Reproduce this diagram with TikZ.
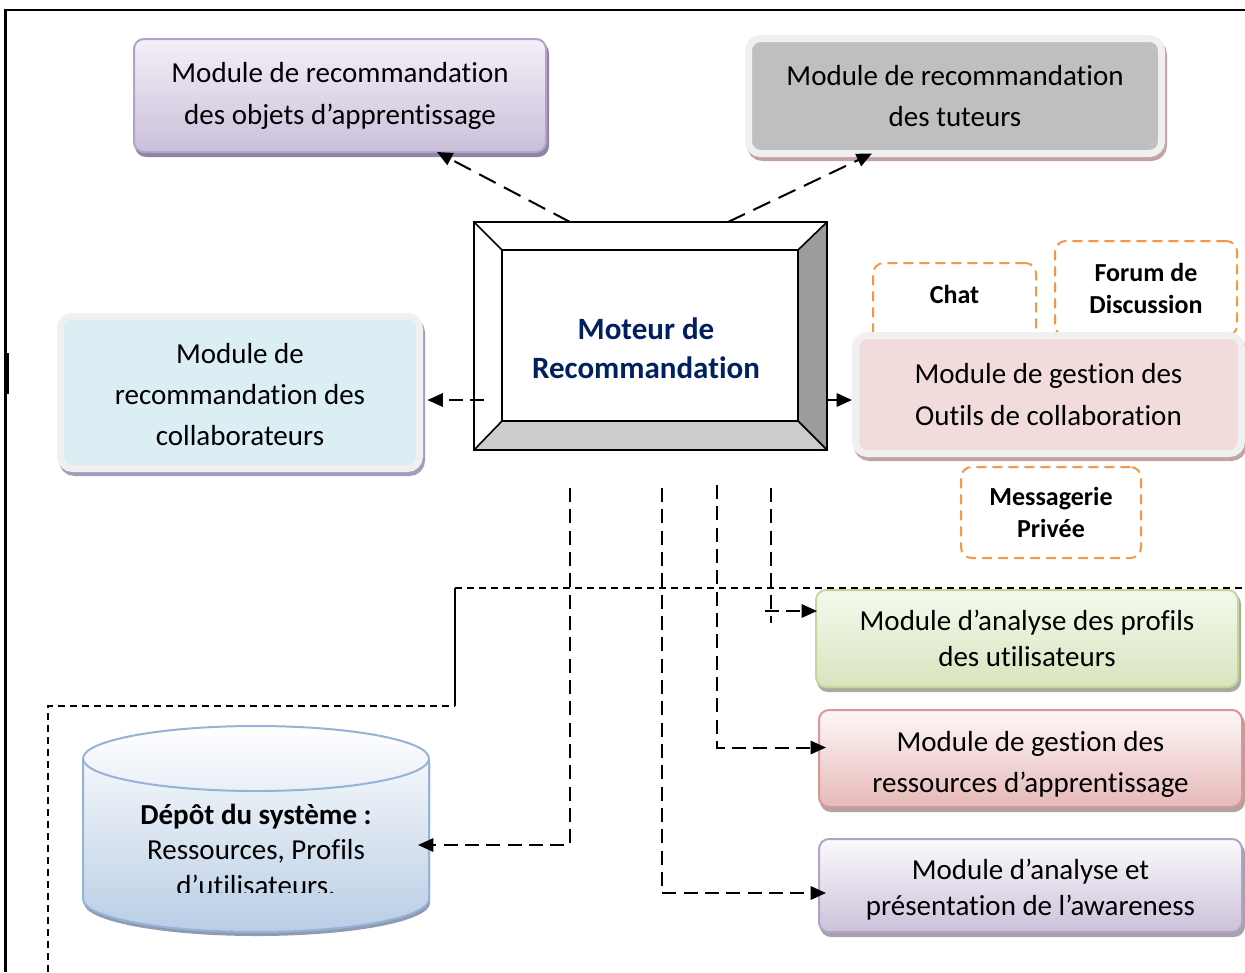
\documentclass[tikz,border=0pt]{standalone}
\usepackage{fontspec}
\setmainfont{Carlito}[Ligatures={NoCommon,NoContextual}]
\usetikzlibrary{calc,arrows.meta}

\definecolor{navy}{HTML}{002060}
\definecolor{orangeline}{HTML}{F79646}
\definecolor{lavtop}{HTML}{F3F0F7}
\definecolor{lavbot}{HTML}{CBBFDA}
\definecolor{lavline}{HTML}{B3A2C7}
\definecolor{lavshadow}{HTML}{8F84A3}
\definecolor{greytut}{HTML}{BFBFBF}
\definecolor{framecol}{HTML}{F0F0F0}
\definecolor{roseshadow}{HTML}{C4A3A3}
\definecolor{iceblue}{HTML}{DAEEF3}
\definecolor{blueshadow}{HTML}{A29DBB}
\definecolor{rosefill}{HTML}{F2DCDB}
\definecolor{greentop}{HTML}{F5F9EE}
\definecolor{greenbot}{HTML}{D7E4BD}
\definecolor{greenline}{HTML}{C3D69B}
\definecolor{greenshadow}{HTML}{A8AC9E}
\definecolor{redtop}{HTML}{FDF7F7}
\definecolor{redbot}{HTML}{E6B9B8}
\definecolor{redline}{HTML}{D99694}
\definecolor{redshadow}{HTML}{AFA3A3}
\definecolor{purptop}{HTML}{FBFAFC}
\definecolor{purpbot}{HTML}{CCC1DA}
\definecolor{purpshadow}{HTML}{A5A2AD}
\definecolor{cylbot}{HTML}{B9CDE5}
\definecolor{cylline}{HTML}{95B3D7}
\definecolor{cylshadow}{HTML}{8E9BB0}
\definecolor{bevelright}{HTML}{9C9C9C}
\definecolor{bevelbottom}{HTML}{CCCCCC}

\tikzset{
  every node/.style={inner sep=0pt, outer sep=0pt, align=center},
  txt/.style={font=\fontsize{21.75pt}{#1}\selectfont},
  shadowed/.style={preaction={fill=#1, draw=#1, transform canvas={xshift=1.5pt, yshift=-3pt}}},
  framed/.style 2 args={rounded corners=9pt, fill=#1, draw=framecol, line width=5.25pt, shadowed=#2},
  gradbox/.style n args={4}{rounded corners=7.5pt, line width=1.5pt, draw=#3,
    top color=#1, bottom color=#2, shadowed=#4},
  tool/.style={rounded corners=8pt, draw=orangeline, line width=1.5pt,
    dash pattern=on 7.5pt off 4.5pt, fill=white,
    font=\bfseries\fontsize{19.5pt}{24pt}\selectfont},
  tip/.style={-{Triangle[length=11.5pt,width=10pt]}},
  link/.style={line width=1.5pt, dash pattern=on 14pt off 7pt},
  drop/.style={line width=1.5pt, dash pattern=on 10.5pt off 5.5pt},
  fine/.style={line width=1.1pt, dash pattern=on 5.25pt off 3.75pt},
}

\begin{document}
\begin{tikzpicture}[x=0.75pt,y=-0.75pt]
\useasboundingbox (0,0) rectangle (1245,972);

% page frame
\draw[line width=1.8pt] (5.5,972) -- (5.5,10) -- (1245,10);
\draw[line width=2.5pt] (7.5,353) -- (7.5,394);

% recommendation modules
\node[gradbox={lavtop}{lavbot}{lavline}{lavshadow}, minimum width=309pt,
      minimum height=84.75pt, txt=31.5pt] (objets) at (340,95.5)
      {Module de recommandation\\des objets d’apprentissage};
\node[framed={greytut}{roseshadow}, minimum width=309.75pt, minimum height=86.25pt,
      txt=30.75pt] (tuteurs) at (955,96) {Module de recommandation\\des tuteurs};
\node[framed={iceblue}{blueshadow}, minimum width=269.25pt, minimum height=114pt,
      txt=30.75pt] (collabs) at (240,392.5)
      {\rule{0pt}{18pt}Module de\\recommandation des\\collaborateurs};

% collaboration tools
\node[tool, minimum width=122.25pt, minimum height=61.5pt, text depth=15pt]
      (chat) at (954.5,304) {Chat};
\node[tool, minimum width=136.5pt, minimum height=71.25pt]
      (forum) at (1146,288.5) {Forum de\\Discussion};
\node[framed={rosefill}{roseshadow}, minimum width=289.5pt, minimum height=88.5pt,
      txt=31.5pt] (outils) at (1048.5,394.5)
      {Module de gestion des\\Outils de collaboration};
\node[tool, minimum width=135pt, minimum height=68.25pt]
      (messagerie) at (1051,512.5) {Messagerie\\Privée};

% analysis and management modules
\node[gradbox={greentop}{greenbot}{greenline}{greenshadow}, minimum width=316.5pt,
      minimum height=72.75pt, txt=27pt] (profils) at (1027,638.5)
      {Module d’analyse des profils\\des utilisateurs};
\node[gradbox={redtop}{redbot}{redline}{redshadow}, minimum width=317.25pt,
      minimum height=72.75pt, txt=30.75pt] (ressources) at (1030.5,758.5)
      {\rule{0pt}{24pt}Module de gestion des\\ressources d’apprentissage};
\node[gradbox={purptop}{purpbot}{lavline}{purpshadow}, minimum width=317.25pt,
      minimum height=69.75pt, txt=27pt] (awareness) at (1030.5,885.5)
      {\rule{0pt}{21pt}Module d’analyse et\\présentation de l’awareness};

% bevelled engine box
\node[draw, line width=1.5pt, fill=white, minimum width=264.75pt, minimum height=171pt]
      (moteur) at (650.5,336) {};
\coordinate (inw) at ($(moteur.north west)+(28,28)$);
\coordinate (ine) at ($(moteur.north east)+(-29,28)$);
\coordinate (ise) at ($(moteur.south east)+(-29,-29)$);
\coordinate (isw) at ($(moteur.south west)+(28,-29)$);
\filldraw[fill=bevelright, line width=1.2pt, line join=round]
  (moteur.north east) -- (moteur.south east) -- (ise) -- (ine) -- cycle;
\filldraw[fill=bevelbottom, line width=1.2pt, line join=round]
  (moteur.south west) -- (moteur.south east) -- (ise) -- (isw) -- cycle;
\draw[line width=1.2pt] (moteur.north west) -- (inw);
\draw[line width=1.2pt] (inw) rectangle (ise);
\draw[line width=1.5pt] (moteur.north west) rectangle (moteur.south east);
\node[font=\bfseries\fontsize{23.25pt}{29.25pt}\selectfont, text=navy]
      (moteurlbl) at (646,348) {Moteur de\\Recommandation};

% system repository cylinder
\fill[cylshadow] (84,763) -- (84,903) arc[start angle=180, end angle=0, x radius=173, y radius=33]
  -- (430,763) -- cycle;
\shade[top color=white, bottom color=cylbot]
  (83,758.5) -- (83,899) arc[start angle=180, end angle=0, x radius=173, y radius=33]
  -- (429,758.5) arc[start angle=0, end angle=-180, x radius=173, y radius=32.5] -- cycle;
\draw[cylline, line width=1.5pt]
  (83,758.5) -- (83,899) arc[start angle=180, end angle=0, x radius=173, y radius=33]
  -- (429,758.5);
\draw[cylline, line width=1.5pt] (256,758.5) ellipse [x radius=173, y radius=32.5];
\node[minimum width=259.5pt, minimum height=157.5pt] (depot) at (256,831) {};
\begin{scope}
  \clip (83,700) rectangle (429,892);
  \node[txt=26.6pt] (depottxt) at (256,849.5)
    {\textbf{Dépôt du système :}\\Ressources, Profils\\d’utilisateurs.};
\end{scope}

% connectors from the engine
\draw[link,tip] ($(moteur.north west)+(96,0)$) -- ($(objets.south)+(97,0)$);
\draw[link,tip] ($(moteur.north east)+(-99,0)$) -- ($(tuteurs.south)+(-83,0)$);
\draw[drop,tip] ($(moteur.south west)+(10,-50)$) -- ($(collabs.east)+(8,7.5)$);
\draw[line width=1.5pt,tip] ($(moteur.east)+(0,64)$) -- ($(outils.west)+(-3.5,5.5)$);

% vertical links below the engine
\coordinate (d1) at (570,488);
\coordinate (d2) at (662,488);
\coordinate (d3) at (717,485);
\coordinate (d4) at (771,488);
\coordinate (d4end) at (771,623);
\coordinate (g0) at (765,611);
\draw[drop,tip] (d1) |- ($(depot.east)+(-11,14)$);
\draw[drop,tip] (d2) |- ($(awareness.west)+(7,7.5)$);
\draw[drop,tip] (d3) |- ($(ressources.west)+(7,-11)$);
\draw[drop] (d4) -- (d4end);
\draw[drop,tip] (g0) -- ($(profils.west)+(1,-27.5)$);

% fine dashed boundary
\coordinate (f0) at (48,972);
\coordinate (f1) at (455,706);
\coordinate (f2) at (455,588);
\coordinate (f3) at (1245,588);
\draw[fine] (f0) |- (f1);
\draw[line width=1.1pt] (f1) -- (f2);
\draw[fine] (f2) -- (f3);
\end{tikzpicture}
\end{document}
